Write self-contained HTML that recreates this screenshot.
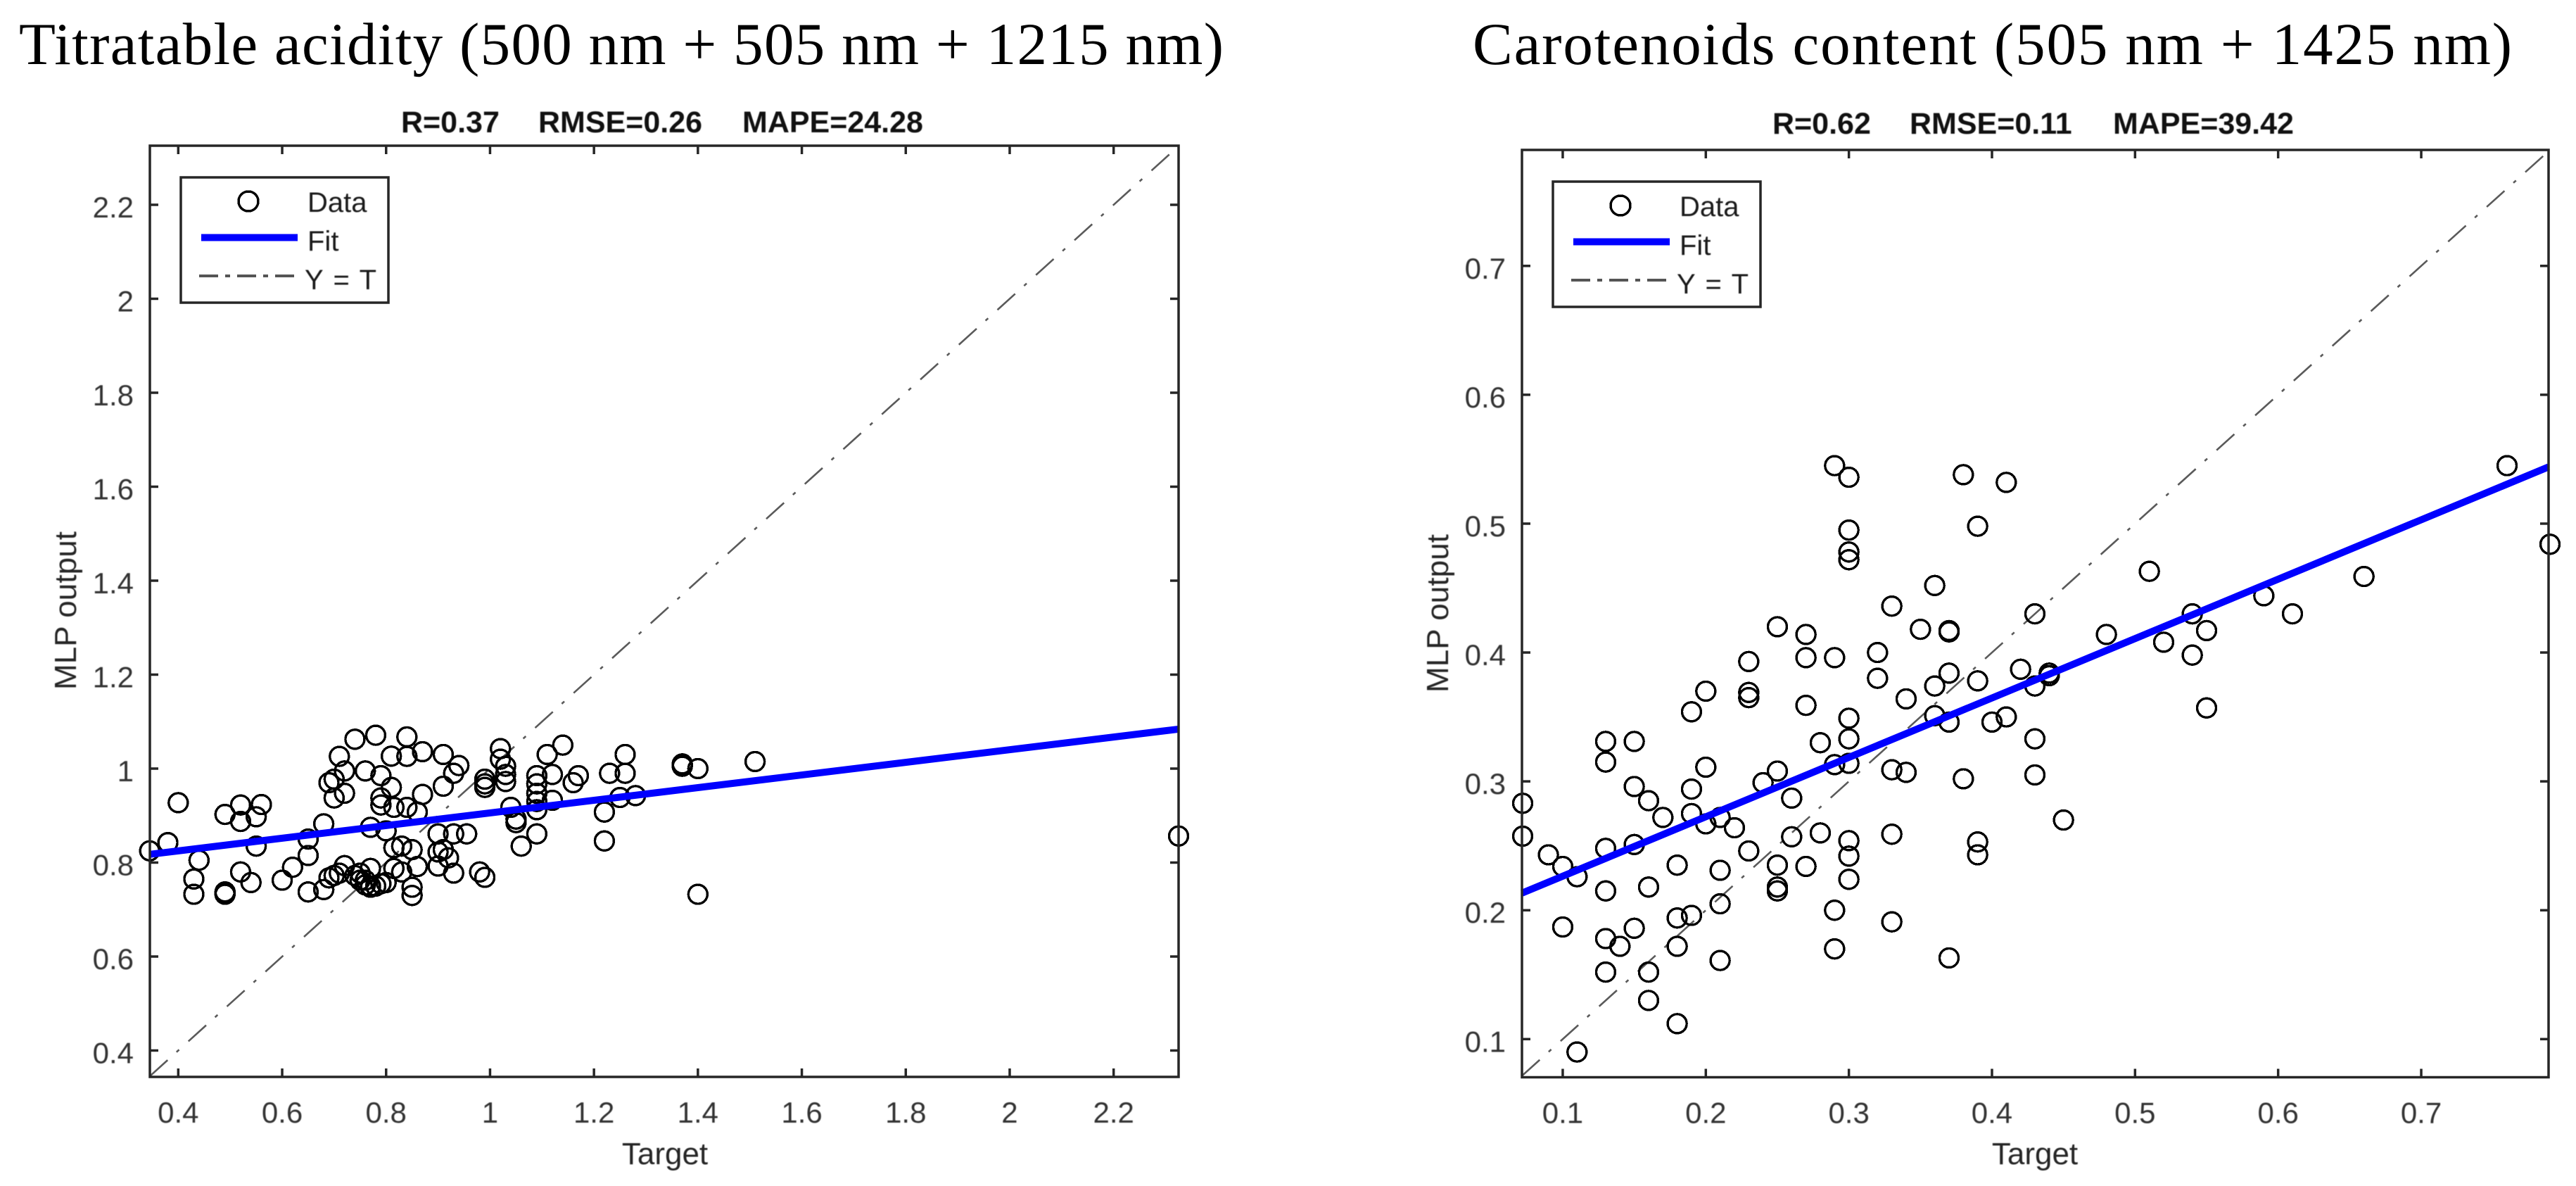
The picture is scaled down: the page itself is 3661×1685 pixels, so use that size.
<!DOCTYPE html>
<html lang="en">
<head>
<meta charset="utf-8">
<title>Titratable acidity and carotenoids content MLP regression</title>
<style>
html,body{margin:0;padding:0;background:#fff;}
body{width:3661px;height:1685px;overflow:hidden;}
svg{display:block;}
text{font-family:"Liberation Sans",Arial,sans-serif;}
.main-title{font-family:"Liberation Serif",serif;font-size:85px;fill:#000;}
.sub-title{font-size:43px;font-weight:bold;fill:#111;filter:blur(0.5px);}
.tick{font-size:42px;fill:#333;filter:blur(0.5px);}
.axis-label{font-size:44px;fill:#262626;filter:blur(0.5px);}
.legend-text{font-size:40px;fill:#1a1a1a;filter:blur(0.5px);}
</style>
</head>
<body>
<svg id="figure" xmlns="http://www.w3.org/2000/svg" width="3661" height="1685" viewBox="0 0 3661 1685">
  <rect x="0" y="0" width="3661" height="1685" fill="#fff"/>

  <text class="main-title" x="27" y="91" textLength="1712" lengthAdjust="spacing">Titratable acidity (500 nm + 505 nm + 1215 nm)</text>
  <text class="main-title" x="2093" y="91" textLength="1477" lengthAdjust="spacing">Carotenoids content (505 nm + 1425 nm)</text>

  <text class="sub-title" y="188"><tspan x="570">R=0.37</tspan> <tspan x="765">RMSE=0.26</tspan> <tspan x="1055">MAPE=24.28</tspan></text>
  <text class="sub-title" y="190"><tspan x="2519">R=0.62</tspan> <tspan x="2714">RMSE=0.11</tspan> <tspan x="3003">MAPE=39.42</tspan></text>

  <g id="left-plot"></g>
  <g id="right-plot"></g>

  <text class="axis-label" x="945" y="1654" text-anchor="middle">Target</text>
  <text class="axis-label" x="2892" y="1654" text-anchor="middle">Target</text>
  <text class="axis-label" transform="translate(108,980) rotate(-90)" textLength="225" lengthAdjust="spacing">MLP output</text>
  <text class="axis-label" transform="translate(2058,984) rotate(-90)" textLength="225" lengthAdjust="spacing">MLP output</text>

  <g>
    <rect x="257" y="252" width="295" height="178" fill="#fff" stroke="#262626" stroke-width="3.5"/>
    <circle cx="353" cy="286" r="14" fill="none" stroke="#000" stroke-width="3.5" shape-rendering="crispEdges"/>
    <text class="legend-text" x="437" y="301">Data</text>
    <line x1="286" y1="337.5" x2="423" y2="337.5" stroke="#0000ff" stroke-width="10"/>
    <text class="legend-text" x="437" y="356">Fit</text>
    <line x1="283" y1="392" x2="420" y2="392" stroke="#555" stroke-width="4" stroke-dasharray="27 10 7 10"/>
    <text class="legend-text" x="433" y="411" textLength="102" lengthAdjust="spacing">Y = T</text>
  </g>

  <g>
    <rect x="2207" y="258" width="295" height="178" fill="#fff" stroke="#262626" stroke-width="3.5"/>
    <circle cx="2303" cy="292" r="14" fill="none" stroke="#000" stroke-width="3.5" shape-rendering="crispEdges"/>
    <text class="legend-text" x="2387" y="307">Data</text>
    <line x1="2236" y1="343.5" x2="2373" y2="343.5" stroke="#0000ff" stroke-width="10"/>
    <text class="legend-text" x="2387" y="362">Fit</text>
    <line x1="2233" y1="398" x2="2370" y2="398" stroke="#555" stroke-width="4" stroke-dasharray="27 10 7 10"/>
    <text class="legend-text" x="2383" y="417" textLength="102" lengthAdjust="spacing">Y = T</text>
  </g>
</svg>

<script>
// ---- Titratable acidity data ----
const acidityTarget = [
  0.345,0.38,0.40,0.44,0.43,0.43,0.49,0.49,0.52,0.54,
  0.49,0.52,0.56,0.52,0.55,0.55,0.60,0.62,0.65,0.65,
  0.65,0.68,0.68,0.69,0.70,0.71,0.72,0.70,0.69,0.70,
  0.72,0.71,0.72,0.74,0.78,0.76,0.84,0.81,0.84,0.87,
  0.91,0.79,0.81,0.79,0.79,0.815,0.84,0.86,0.87,0.91,
  0.93,0.94,0.77,0.80,0.90,0.93,0.955,0.815,0.83,0.85,
  0.90,0.91,0.92,0.86,0.83,0.85,0.85,0.90,0.93,0.98,
  0.99,0.74,0.75,0.77,0.75,0.76,0.77,0.78,0.79,0.80,
  0.815,0.76,0.77,0.99,0.99,1.02,1.02,1.03,1.03,1.03,
  0.99,1.09,1.09,1.09,1.09,1.09,1.11,1.14,1.12,1.12,
  1.17,1.16,1.04,1.05,1.05,1.09,1.06,1.22,1.22,1.23,
  1.26,1.26,1.25,1.28,1.37,1.37,1.40,1.51,2.325,1.40
];
const acidityOutput = [
  0.825,0.8425,0.9275,0.805,0.765,0.7325,0.7375,0.7325,0.78,0.7575,
  0.9025,0.9225,0.9235,0.8875,0.8975,0.835,0.7625,0.79,0.815,0.85,
  0.7375,0.7425,0.8825,0.7675,0.7725,0.7775,0.7935,0.9375,0.97,0.9775,
  0.995,1.026,0.9475,1.0625,1.071,0.995,1.0675,1.0265,1.026,1.036,
  1.03,0.985,0.96,0.9375,0.9225,0.9175,0.9175,0.9075,0.945,0.9625,
  0.99,1.0065,0.875,0.8675,0.861,0.861,0.861,0.8315,0.835,0.8275,
  0.8225,0.8275,0.81,0.7915,0.78,0.7475,0.73,0.7925,0.7775,0.78,
  0.7685,0.7725,0.7775,0.7875,0.7625,0.7525,0.7475,0.75,0.755,0.7575,
  0.7875,0.7625,0.75,0.96,0.9775,1.0425,1.02,1.005,0.9875,0.9725,
  0.9675,0.985,0.9675,0.9475,0.93,0.9125,1.03,1.05,0.9875,0.9325,
  0.985,0.97,0.9175,0.8925,0.885,0.861,0.835,0.9075,0.846,0.99,
  0.99,1.03,0.9385,0.9425,1.005,1.01,1.0,1.015,0.8565,0.7325
];
const acidityFitTarget = [0.345, 2.325];
const acidityFitOutput = [0.8175, 1.084];
const acidityXTicks = [0.4,0.6,0.8,1,1.2,1.4,1.6,1.8,2,2.2];
const acidityYTicks = [0.4,0.6,0.8,1,1.2,1.4,1.6,1.8,2,2.2];
const acidityXDomain = [0.3454, 2.325];
const acidityYDomain = [0.3438, 2.3258];

// ---- Carotenoids data ----
const caroteneTarget = [
  0.072,0.072,0.09,0.10,0.10,0.11,0.11,0.13,0.13,0.13,
  0.13,0.13,0.13,0.14,0.15,0.15,0.15,0.15,0.16,0.16,
  0.16,0.16,0.17,0.18,0.18,0.18,0.18,0.19,0.19,0.19,
  0.19,0.20,0.20,0.20,0.21,0.21,0.21,0.21,0.22,0.23,
  0.23,0.23,0.23,0.24,0.25,0.25,0.25,0.25,0.25,0.26,
  0.26,0.27,0.27,0.27,0.27,0.28,0.28,0.29,0.29,0.29,
  0.29,0.30,0.30,0.30,0.30,0.30,0.30,0.32,0.32,0.33,
  0.33,0.33,0.33,0.34,0.34,0.35,0.36,0.36,0.37,0.37,
  0.37,0.37,0.37,0.38,0.39,0.39,0.39,0.40,0.41,0.42,
  0.43,0.43,0.43,0.43,0.44,0.44,0.45,0.48,0.52,0.54,
  0.54,0.55,0.55,0.59,0.61,0.29,0.30,0.30,0.30,0.30,
  0.38,0.41,0.39,0.51,0.36,0.66,0.76,0.79
];
const caroteneOutput = [
  0.283,0.2575,0.243,0.234,0.187,0.226,0.09,0.331,0.315,0.248,
  0.215,0.178,0.152,0.172,0.331,0.296,0.251,0.186,0.285,0.218,
  0.152,0.13,0.272,0.235,0.194,0.172,0.112,0.354,0.294,0.275,
  0.196,0.37,0.311,0.267,0.272,0.231,0.205,0.161,0.264,0.393,
  0.369,0.365,0.246,0.299,0.42,0.308,0.235,0.218,0.215,0.287,
  0.257,0.414,0.396,0.359,0.234,0.33,0.26,0.396,0.313,0.2,
  0.17,0.349,0.333,0.314,0.254,0.242,0.224,0.4,0.38,0.436,
  0.309,0.259,0.191,0.364,0.307,0.418,0.374,0.351,0.417,0.416,
  0.384,0.346,0.163,0.302,0.378,0.253,0.243,0.346,0.35,0.387,
  0.43,0.374,0.333,0.305,0.384,0.382,0.27,0.414,0.408,0.43,
  0.398,0.417,0.357,0.444,0.43,0.545,0.536,0.495,0.478,0.472,
  0.538,0.532,0.498,0.463,0.452,0.459,0.545,0.484
];
const caroteneFitTarget = [0.0715, 0.789];
const caroteneFitOutput = [0.2133, 0.544];
const caroteneXTicks = [0.1,0.2,0.3,0.4,0.5,0.6,0.7];
const caroteneYTicks = [0.1,0.2,0.3,0.4,0.5,0.6,0.7];
const caroteneXDomain = [0.0715, 0.789];
const caroteneYDomain = [0.0704, 0.79];

const SVG_NS = 'http://www.w3.org/2000/svg';

function makeEl(parent, tag, attrs) {
  const el = document.createElementNS(SVG_NS, tag);
  for (const k in attrs) el.setAttribute(k, attrs[k]);
  parent.appendChild(el);
  return el;
}

function drawPlot(groupId, box, xDomain, yDomain, xTicks, yTicks, xs, ys, fitXs, fitYs) {
  const g = document.getElementById(groupId);
  const sx = v => box.left + (v - xDomain[0]) / (xDomain[1] - xDomain[0]) * (box.right - box.left);
  const sy = v => box.bottom - (v - yDomain[0]) / (yDomain[1] - yDomain[0]) * (box.bottom - box.top);
  const tickLen = 12;

  // identity (Y = T) line
  const idLine = makeEl(g, 'line', {
    x1: sx(xDomain[0]), y1: sy(xDomain[0]), x2: sx(xDomain[1]), y2: sy(xDomain[1]),
    stroke: '#5a5a5a', 'stroke-width': 2.6, 'stroke-dasharray': '34 17 5 17.8'
  });
  
  

  // data points
  xs.forEach((xv, i) => {
    const c = makeEl(g, 'circle', {
      cx: sx(xv), cy: sy(ys[i]), r: 13.5, fill: 'none', stroke: '#000', 'stroke-width': 3.4,
      'shape-rendering': 'crispEdges'
    });
    
    
  });

  // fit line
  const fit = makeEl(g, 'line', {
    x1: sx(fitXs[0]), y1: sy(fitYs[0]), x2: sx(fitXs[1]), y2: sy(fitYs[1]),
    stroke: '#0000ff', 'stroke-width': 10
  });
  
  

  // frame
  const frame = makeEl(g, 'rect', {
    x: box.left, y: box.top, width: box.right - box.left, height: box.bottom - box.top,
    fill: 'none', stroke: '#262626', 'stroke-width': 3.5
  });
  
  

  // x ticks
  xTicks.forEach(v => {
    const x = sx(v);
    const t1 = makeEl(g, 'line', { x1: x, y1: box.bottom, x2: x, y2: box.bottom - tickLen, stroke: '#262626', 'stroke-width': 3.5 });
    
    
    const t2 = makeEl(g, 'line', { x1: x, y1: box.top, x2: x, y2: box.top + tickLen, stroke: '#262626', 'stroke-width': 3.5 });
    
    
    const lbl = makeEl(g, 'text', { x: x, y: box.bottom + 65, 'text-anchor': 'middle', class: 'tick' });
    
    
    lbl.textContent = String(v);
  });

  // y ticks
  yTicks.forEach(v => {
    const y = sy(v);
    const t1 = makeEl(g, 'line', { x1: box.left, y1: y, x2: box.left + tickLen, y2: y, stroke: '#262626', 'stroke-width': 3.5 });
    
    
    const t2 = makeEl(g, 'line', { x1: box.right, y1: y, x2: box.right - tickLen, y2: y, stroke: '#262626', 'stroke-width': 3.5 });
    
    
    const lbl = makeEl(g, 'text', { x: box.left - 23, y: y + 18, 'text-anchor': 'end', class: 'tick' });
    
    
    lbl.textContent = String(v);
  });
}

drawPlot('left-plot', { left: 213, right: 1675, top: 207, bottom: 1530 },
  acidityXDomain, acidityYDomain, acidityXTicks, acidityYTicks,
  acidityTarget, acidityOutput, acidityFitTarget, acidityFitOutput);

drawPlot('right-plot', { left: 2163, right: 3622, top: 213, bottom: 1530.5 },
  caroteneXDomain, caroteneYDomain, caroteneXTicks, caroteneYTicks,
  caroteneTarget, caroteneOutput, caroteneFitTarget, caroteneFitOutput);
</script>
</body>
</html>
